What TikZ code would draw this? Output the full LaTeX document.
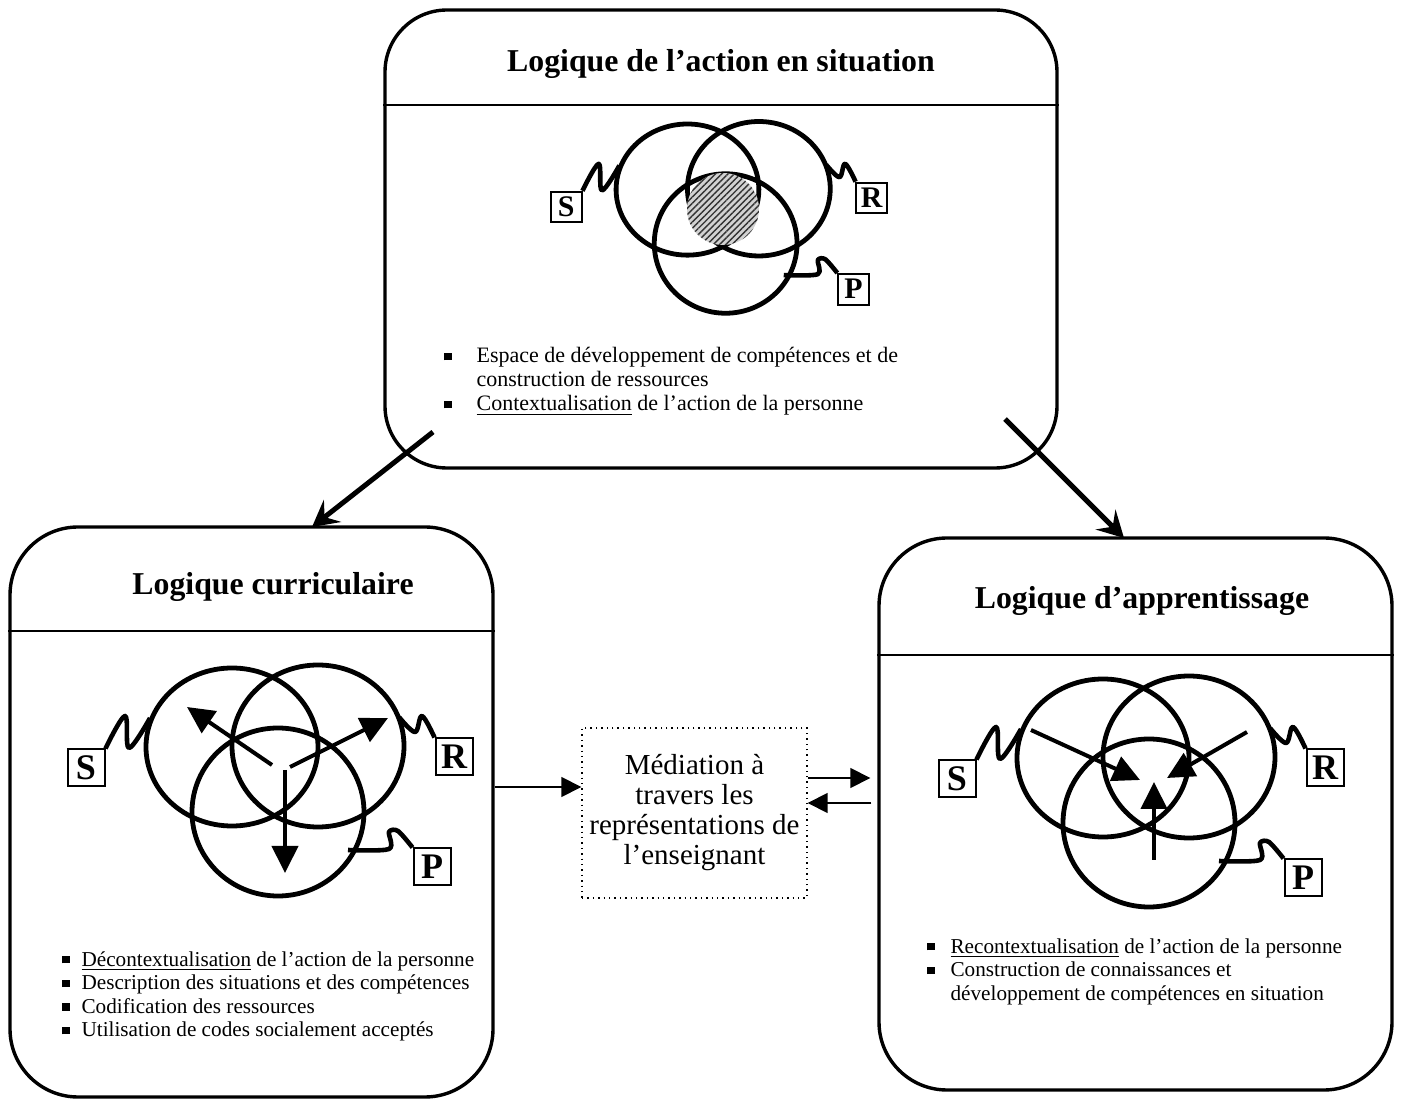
\documentclass[tikz,border=0pt]{standalone}
\usepackage{fontspec}
\setmainfont{Liberation Serif}
\usetikzlibrary{arrows.meta,patterns.meta}

\newcommand{\sqbullet}{\rule[0.12em]{3.6pt}{3.6pt}}

\tikzset{
  ring/.style={line width=2.4pt},
  squig/.style={line width=2.3pt, line join=round},
  letterbox/.style={draw, line width=1pt, minimum size=18.5pt, inner sep=0pt,
    font=\bfseries\fontsize{18}{18}\selectfont, transform shape},
  venn/.pic={
    \draw[ring] (-44,-21) ellipse (86 and 79);
    \draw[ring] (42,-22) ellipse (86 and 81);
    \draw[ring] (2,44) ellipse (86 and 84);
    \node[letterbox] (-S) at (-190,0) {S};
    \node[letterbox] (-R) at (178,-11) {R};
    \node[letterbox] (-P) at (156,99) {P};
    \draw[squig] plot[smooth, tension=0.6] coordinates {(-S.north east) (-151,-52) (-147,-20) (-126,-50)};
    \draw[squig] plot[smooth, tension=0.6] coordinates {(123,-51) (139,-36) (146,-52) (-R.north west)};
    \draw[squig] plot[smooth, tension=0.5] coordinates {(72,82) (113,81) (113,64) (122,63) (-P.north west)};
  }
}

\begin{document}
\begin{tikzpicture}[x=0.5pt, y=-0.5pt,
    box/.style={draw, line width=1.7pt, rounded corners=34pt, inner sep=0pt},
    sep/.style={line width=1.2pt},
    title/.style={font=\bfseries\fontsize{15.9}{18}\selectfont, inner sep=0pt, anchor=base},
    list/.style={inner sep=0pt, anchor=base west},
    bigarrow/.style={line width=2.5pt, -{Stealth[length=13pt, width=14pt, inset=5pt]}},
    venarrow/.style={line width=2pt, -{Triangle[length=13.5pt, width=13pt]}},
    thinarrow/.style={line width=0.8pt, -{Triangle[length=10pt, width=10pt]}}]

  \useasboundingbox (0,0) rectangle (1405,1101);

  % the three logics
  \node[box, rounded corners=31pt, minimum width=336pt, minimum height=229pt] (action) at (721,239) {};
  \node[box, minimum width=241.5pt, minimum height=285pt] (curri) at (251.5,812) {};
  \node[box, minimum width=256.5pt, minimum height=276pt] (appr) at (1135.5,814) {};

  \draw[sep] ([yshift=-48.5pt]action.north west) -- ([yshift=-48.5pt]action.north east);
  \draw[sep] ([yshift=-53pt]curri.north west) -- ([yshift=-53pt]curri.north east);
  \draw[sep] ([yshift=-59.5pt]appr.north west) -- ([yshift=-59.5pt]appr.north east);

  \node[title] (acttitle) at (721,72) {Logique de l’action en situation};
  \node[title] (curtitle) at (273,595) {Logique curriculaire};
  \node[title] (apptitle) at (1142,609) {Logique d’apprentissage};

  % venn diagrams
  \pic[scale=0.83] (actv) at (724,207) {venn};
  \pic (curv) at (276,768) {venn};
  \pic (appv) at (1147,779) {venn};
  \fill[gray!35, postaction={pattern={Lines[angle=45, distance=2.2pt, line width=0.7pt]}, pattern color=gray!40!black}]
    (723,209) circle (36);

  \begin{scope}[shift={(276,768)}]
    \draw[venarrow] (-4,-3) -- (-89,-61);
    \draw[venarrow] (14,-1) -- (112,-50);
    \draw[venarrow] (9,2) -- (9,105);
  \end{scope}
  \begin{scope}[shift={(1147,779)}]
    \draw[venarrow] (-116,-49) -- (-7,1);
    \draw[venarrow] (100,-47) -- (20,-1);
    \draw[venarrow] (7,81) -- (7,3);
  \end{scope}

  % lists
  \node[list, font=\fontsize{11}{12}\selectfont] (actlist) at (444,363) {%
    \begin{tabular}[t]{@{}l@{\hspace{12.5pt}}l@{}}
      \sqbullet & Espace de développement de compétences et de\\
                & construction de ressources\\
      \sqbullet & \underline{Contextualisation} de l’action de la personne
    \end{tabular}};
  \node[list, font=\fontsize{10.6}{11.8}\selectfont] (curlist) at (62,966) {%
    \begin{tabular}[t]{@{}l@{\hspace{6pt}}l@{}}
      \sqbullet & \underline{Décontextualisation} de l’action de la personne\\
      \sqbullet & Description des situations et des compétences\\
      \sqbullet & Codification des ressources\\
      \sqbullet & Utilisation de codes socialement acceptés
    \end{tabular}};
  \node[list, font=\fontsize{10.6}{11.8}\selectfont] (applist) at (927,953) {%
    \begin{tabular}[t]{@{}l@{\hspace{8pt}}l@{}}
      \sqbullet & \underline{Recontextualisation} de l’action de la personne\\
      \sqbullet & Construction de connaissances et\\
                & développement de compétences en situation
    \end{tabular}};

  % mediation
  \node[draw, dotted, line width=0.7pt, minimum width=112.5pt, minimum height=85pt, align=center,
    font=\fontsize{14.5}{15}\selectfont] (medi) at (694.5,813)
    {Médiation à\\travers les\\représentations de\\l’enseignant};

  % connectors
  \coordinate (a1) at (433,432);
  \coordinate (a2) at (312,527);
  \coordinate (b1) at (1005,419);
  \coordinate (b2) at (1124,538);
  \draw[bigarrow] (a1) -- (a2);
  \draw[bigarrow] (b1) -- (b2);

  \coordinate (m1) at ([yshift=12.5pt]curri.east);
  \coordinate (m2) at ([yshift=17.5pt]medi.east);
  \coordinate (m3) at ([yshift=5pt]medi.east);
  \draw[thinarrow] (m1) -- (m1 -| medi.west);
  \draw[thinarrow, shorten >=3.5pt] (m2) -- (m2 -| appr.west);
  \draw[thinarrow, shorten <=3pt] (m3 -| appr.west) -- (m3);

\end{tikzpicture}
\end{document}
